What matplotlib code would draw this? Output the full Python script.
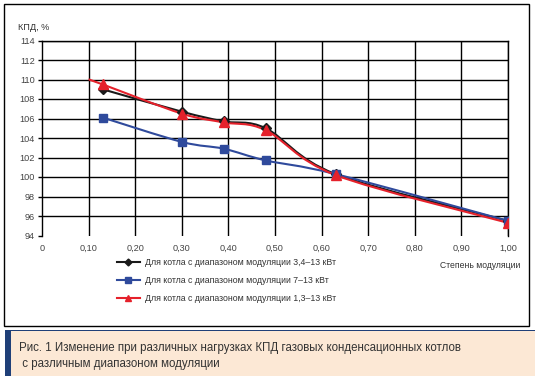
import numpy as np
import matplotlib
matplotlib.use("Agg")
import matplotlib.pyplot as plt
from matplotlib.path import Path
from matplotlib.patches import PathPatch, Rectangle
from matplotlib.lines import Line2D

plt.rcParams['font.family'] = ['Liberation Sans', 'DejaVu Sans']

# data
x_black = [0.13, 0.30, 0.39, 0.48, 0.63, 1.00]
y_black = [109.0, 106.7, 105.7, 105.0, 100.3, 95.5]
x_blue = [0.13, 0.30, 0.39, 0.48, 0.63, 1.00]
y_blue = [106.1, 103.6, 102.9, 101.7, 100.3, 95.5]
x_red = [0.10, 0.13, 0.30, 0.39, 0.48, 0.63, 1.00]
y_red = [110.0, 109.5, 106.5, 105.6, 104.8, 100.2, 95.3]

labels = ["Для котла с диапазоном модуляции 3,4–13 кВт",
          "Для котла с диапазоном модуляции 7–13 кВт",
          "Для котла с диапазоном модуляции 1,3–13 кВт"]
x_ticks = [0, 0.1, 0.2, 0.3, 0.4, 0.5, 0.6, 0.7, 0.8, 0.9, 1.0]
x_ticklabels = ["0", "0,10", "0,20", "0,30", "0,40", "0,50", "0,60", "0,70", "0,80", "0,90", "1,00"]
y_ticks = list(range(94, 115, 2))
caption = ("Рис. 1 Изменение при различных нагрузках КПД газовых конденсационных котлов\n"
           " с различным диапазоном модуляции")

W, H = 535, 380
fig = plt.figure(figsize=(W / 100, H / 100), dpi=100)


def fx(px):
    return px / W


def fy(py):
    return 1 - py / H


def smooth_path(xs, ys):
    # excel-like smoothed line, cubic bezier through the points
    p = np.column_stack([xs, ys])
    n = len(p)
    verts = [p[0]]
    codes = [Path.MOVETO]
    for i in range(n - 1):
        p0 = p[i - 1] if i > 0 else p[i]
        p3 = p[i + 2] if i + 2 < n else p[i + 1]
        c1 = p[i] + (p[i + 1] - p0) / 6
        c2 = p[i + 1] - (p3 - p[i]) / 6
        verts += [c1, c2, p[i + 1]]
        codes += [Path.CURVE4] * 3
    return Path(verts, codes)


ax = fig.add_axes([fx(42), fy(235.5), fx(508) - fx(42), fy(40.5) - fy(235.5)])
ax.set_xlim(0, 1.0)
ax.set_ylim(94, 114)
ax.set_xticks(x_ticks)
ax.set_xticklabels(x_ticklabels)
ax.set_yticks(y_ticks)
ax.tick_params(axis='x', length=0, pad=6, labelsize=6.6, labelcolor='#444444')
ax.tick_params(axis='y', length=3, width=1, pad=2, labelsize=6.6, labelcolor='#444444')
ax.grid(True, color='black', lw=1)
ax.get_ygridlines()[0].set_visible(False)
ax.get_xgridlines()[0].set_visible(False)
ax.spines['bottom'].set_visible(False)
for s in ['left', 'top', 'right']:
    ax.spines[s].set_linewidth(1)

series = [
    (x_black, y_black, '#1a1a1a', 'D', 5, False),
    (x_blue, y_blue, '#2f4a9c', 's', 5.5, False),
    (x_red, y_red, '#e5212b', '^', 6.5, True),
]
handles = []
for xs, ys, c, m, ms, skip_first in series:
    ax.add_patch(PathPatch(smooth_path(xs, ys), fill=False, edgecolor=c, lw=1.5, zorder=3))
    mx, my = (xs[1:], ys[1:]) if skip_first else (xs, ys)
    ax.plot(mx, my, ls='none', marker=m, ms=ms, color=c, zorder=4)
    handles.append(Line2D([], [], color=c, lw=1.5, marker=m, ms=ms - 1.5))

fig.legend(handles, labels, loc='upper left', bbox_to_anchor=(fx(117), fy(258)),
           frameon=False, fontsize=6.3, handlelength=2.6, handletextpad=0.6,
           labelspacing=1.05, borderpad=0, borderaxespad=0)
for t in fig.legends[0].get_texts():
    t.set_color('#333333')

fig.text(fx(520), fy(266), "Степень модуляции", ha='right', va='center', fontsize=6.2, color='#333333')
fig.text(fx(18), fy(27), "КПД, %", ha='left', va='center', fontsize=6.6, color='#333333')

# outer frame
fig.patches.append(Rectangle((fx(4), fy(326)), fx(525), fy(4) - fy(326), transform=fig.transFigure,
                             fill=False, edgecolor='black', lw=1))
# caption box
fig.patches.append(Rectangle((fx(6), fy(376)), fx(529), fy(330) - fy(376), transform=fig.transFigure,
                             facecolor='#fce8d5', edgecolor='none'))
fig.patches.append(Rectangle((fx(6), fy(331)), fx(529), fy(329.5) - fy(331), transform=fig.transFigure,
                             facecolor='#1f3f78', edgecolor='none'))
fig.patches.append(Rectangle((fx(5), fy(376)), fx(6), fy(330) - fy(376), transform=fig.transFigure,
                             facecolor='#1f3f78', edgecolor='none'))
fig.text(fx(19), fy(356), caption, ha='left', va='center', fontsize=8.3, color='#333333',
         linespacing=1.55)

fig.savefig("out.png", dpi=100)
